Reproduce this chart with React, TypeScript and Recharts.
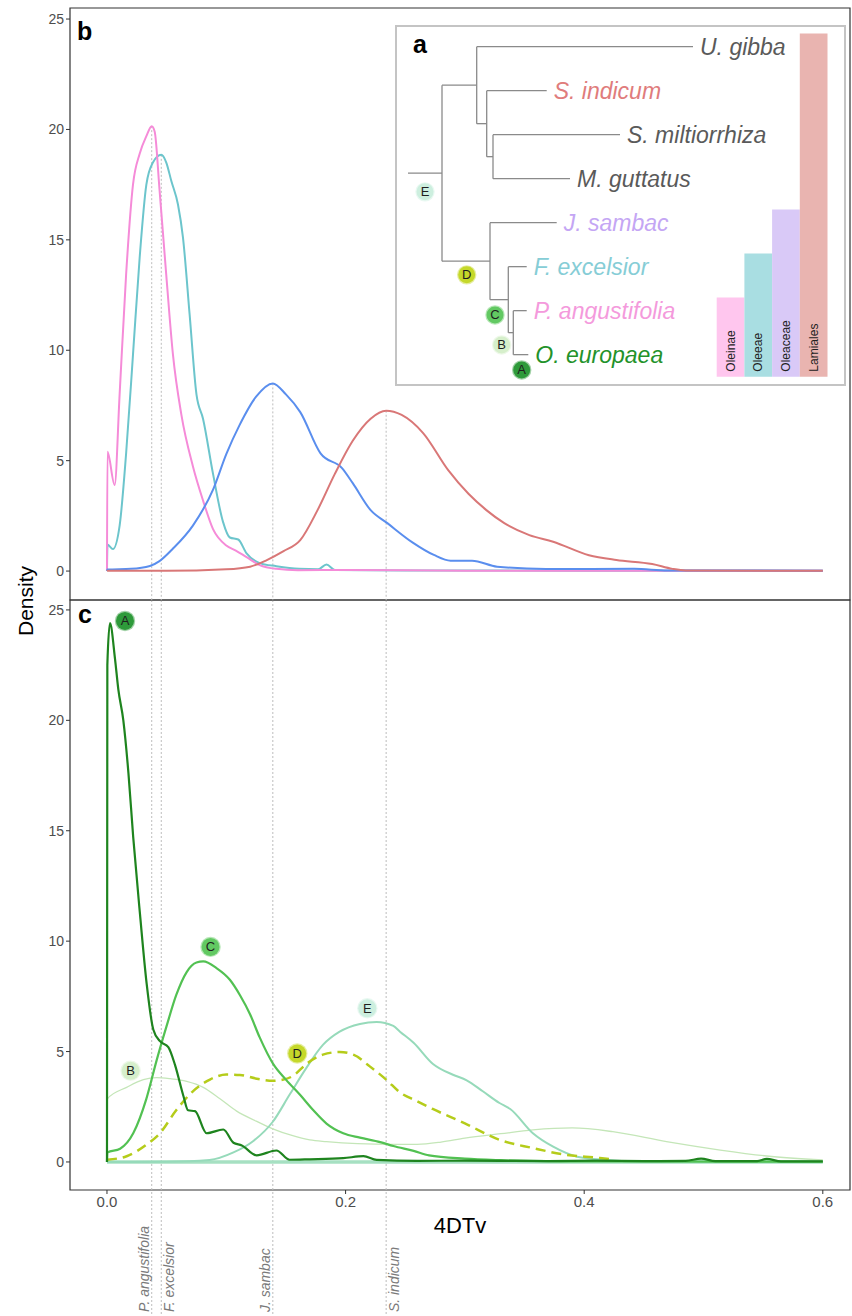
import React from "react";
import {
  LineChart,
  Line,
  XAxis,
  YAxis,
  ReferenceArea,
  ReferenceLine,
  ReferenceDot,
  ComposedChart,
  Scatter,
} from "recharts";

const FONT = '"Liberation Sans", Arial, Helvetica, sans-serif';

// ---- panel b: 4DTv densities of the paralogs in each species, [x, density]
const pAngustifolia = [
  [0, 0], [0.0004, 5.4], [0.0064, 3.9], [0.0106, 8.0], [0.016, 13.4], [0.0218, 17.5],
  [0.0274, 18.9], [0.033, 19.7], [0.0375, 20.15], [0.04, 19.9], [0.044, 17.3],
  [0.0497, 13.4], [0.0553, 9.8], [0.0623, 7.1], [0.072, 4.75], [0.0805, 3.2],
  [0.0889, 1.9], [0.1, 1.16], [0.108, 0.93], [0.117, 0.63], [0.128, 0.27],
  [0.142, 0.1], [0.16, 0.04], [0.2, 0.05], [0.3, 0.02], [0.4, 0.02], [0.5, 0.01], [0.6, 0.01],
];
const fExcelsior = [
  [0, 0], [0.0004, 1.2], [0.005, 1.0], [0.0106, 2.06], [0.016, 5.3], [0.0218, 9.8],
  [0.0274, 14.2], [0.033, 17.5], [0.0385, 18.5], [0.0455, 18.85], [0.0497, 18.5],
  [0.054, 17.65], [0.0595, 16.6], [0.0637, 15.1], [0.0693, 11.6], [0.075, 8.0],
  [0.0805, 6.9], [0.0889, 4.4], [0.0972, 2.24], [0.103, 1.52], [0.11, 1.43],
  [0.117, 0.8], [0.128, 0.36], [0.142, 0.22], [0.161, 0.1], [0.177, 0.08], [0.184, 0.3],
  [0.191, 0.05], [0.25, 0.03], [0.4, 0.02], [0.6, 0.01],
];
const jSambac = [
  [0, 0], [0.0004, 0.07], [0.02, 0.1], [0.036, 0.23], [0.044, 0.45], [0.055, 1.0],
  [0.072, 2.06], [0.089, 3.7], [0.1, 5.3], [0.111, 6.6], [0.125, 7.9], [0.139, 8.5],
  [0.15, 8.0], [0.162, 7.2], [0.179, 5.33], [0.197, 4.66], [0.206, 3.98], [0.221, 2.76],
  [0.235, 2.17], [0.256, 1.3], [0.274, 0.73], [0.288, 0.47], [0.306, 0.47], [0.327, 0.2],
  [0.368, 0.09], [0.442, 0.1], [0.47, 0.03], [0.6, 0.02],
];
const sIndicum = [
  [0, 0], [0.0004, 0.01], [0.05, 0.01], [0.1, 0.08], [0.12, 0.2], [0.134, 0.5],
  [0.148, 0.9], [0.162, 1.4], [0.1765, 2.76], [0.191, 4.4], [0.206, 5.9], [0.221, 6.9],
  [0.234, 7.26], [0.247, 7.07], [0.265, 6.25], [0.286, 4.57], [0.303, 3.5], [0.318, 2.76],
  [0.333, 2.17], [0.354, 1.63], [0.374, 1.33], [0.404, 0.72], [0.427, 0.5], [0.457, 0.32],
  [0.474, 0.1], [0.485, 0.03], [0.6, 0.01],
];

// ---- panel c: densities of the olive paralog classes A-E
const cladeA = [
  [0, 0], [0.0003, 22.5], [0.0025, 24.4], [0.0067, 22.8], [0.0095, 21.4], [0.0137, 20.0],
  [0.018, 17.6], [0.022, 14.7], [0.0277, 11.2], [0.0332, 8.1], [0.0388, 6.0],
  [0.0444, 5.47], [0.0514, 5.2], [0.057, 4.4], [0.064, 3.0], [0.068, 2.34], [0.0738, 2.3],
  [0.0835, 1.3], [0.0975, 1.47], [0.106, 0.87], [0.113, 0.75], [0.1255, 0.3],
  [0.142, 0.52], [0.153, 0.1], [0.17, 0.12], [0.198, 0.17], [0.215, 0.26], [0.226, 0.09],
  [0.26, 0.05], [0.3, 0.06], [0.33, 0.05], [0.37, 0.04], [0.41, 0.06], [0.45, 0.04],
  [0.485, 0.05], [0.498, 0.15], [0.51, 0.04], [0.545, 0.04], [0.553, 0.14], [0.565, 0.03], [0.6, 0.03],
];
const cladeB = [
  [0, 0], [0.0003, 2.86], [0.0165, 3.38], [0.0305, 3.73], [0.0416, 3.82], [0.053, 3.77],
  [0.0668, 3.65], [0.0807, 3.38], [0.0947, 2.86], [0.1087, 2.3], [0.125, 1.85],
  [0.139, 1.5], [0.155, 1.2], [0.17, 1.0], [0.184, 0.92], [0.21, 0.83], [0.24, 0.8],
  [0.26, 0.8], [0.28, 0.9], [0.3, 1.08], [0.33, 1.28], [0.357, 1.45], [0.39, 1.54],
  [0.424, 1.37], [0.469, 0.92], [0.514, 0.54], [0.553, 0.27], [0.6, 0.09],
];
const cladeC = [
  [0, 0], [0.0003, 0.43], [0.011, 0.6], [0.022, 1.3], [0.033, 2.86], [0.0416, 4.6],
  [0.05, 6.16], [0.058, 7.55], [0.0668, 8.6], [0.075, 9.03], [0.0807, 9.08],
  [0.092, 8.77], [0.103, 8.25], [0.1115, 7.55], [0.12, 6.68], [0.128, 5.64],
  [0.1394, 4.43], [0.15, 3.73], [0.1618, 3.04], [0.173, 2.34], [0.184, 1.74],
  [0.198, 1.3], [0.212, 1.1], [0.229, 0.9], [0.24, 0.72], [0.257, 0.5], [0.27, 0.3],
  [0.3, 0.15], [0.33, 0.08], [0.38, 0.03], [0.45, 0.02], [0.6, 0.01],
];
const cladeD = [
  [0, 0.1], [0.0165, 0.26], [0.033, 0.78], [0.0444, 1.3], [0.058, 2.34], [0.072, 3.2],
  [0.0863, 3.73], [0.1, 3.96], [0.1115, 3.94], [0.1255, 3.77], [0.139, 3.68],
  [0.148, 3.73], [0.156, 3.9], [0.167, 4.43], [0.181, 4.86], [0.195, 4.98],
  [0.2065, 4.86], [0.22, 4.34], [0.234, 3.73], [0.2456, 3.15], [0.26, 2.75],
  [0.273, 2.4], [0.3, 1.75], [0.329, 1.0], [0.357, 0.63], [0.385, 0.32], [0.413, 0.18], [0.425, 0.1],
];
const cladeE = [
  [0, 0], [0.05, 0.01], [0.086, 0.09], [0.106, 0.43], [0.1227, 0.95], [0.139, 1.82],
  [0.153, 3.04], [0.167, 4.25], [0.181, 5.3], [0.195, 5.9], [0.212, 6.25], [0.226, 6.34],
  [0.24, 6.16], [0.2456, 5.9], [0.257, 5.4], [0.273, 4.45], [0.29, 3.95], [0.3015, 3.7],
  [0.315, 3.2], [0.329, 2.67], [0.338, 2.4], [0.357, 1.3], [0.374, 0.69], [0.394, 0.24],
  [0.419, 0.09], [0.45, 0.02], [0.6, 0.01],
];

const xTicks = [0, 0.2, 0.4, 0.6];
const yTicks = [0, 5, 10, 15, 20, 25];

// species whose density mode is marked by a dotted line
const markerNames = ["P. angustifolia", "F. excelsior", "J. sambac", "S. indicum"];
const markerSeries = [pAngustifolia, fExcelsior, jSambac, sIndicum];
const markerSide = [-1, 1, -1, 1];

// class labels in panel c
const cladeNames = ["A", "B", "C", "D", "E"];
const cladeLabelX = [0.0151, 0.0198, 0.0868, 0.1595, 0.2182];
const cladeLabelY = [24.5, 4.13, 9.74, 4.91, 6.96];
const cladeFill = ["#2E9A3A", "#D6EFCB", "#62C962", "#C5D82A", "#CDEFDF"];

// ---- inset a: species tree
const tipNames = ["U. gibba", "S. indicum", "S. miltiorrhiza", "M. guttatus", "J. sambac", "F. excelsior", "P. angustifolia", "O. europaea"];
const tipDepth = [285, 138.7, 212, 162, 148.7, 118.7, 118.7, 120.3];
const tipColors = ["#5a5a5a", "#E07C7C", "#5a5a5a", "#5a5a5a", "#C4A6F4", "#86CDD6", "#F49ADC", "#23922A"];
const nodeIds = ["root", "n1", "n2", "n3", "oleaceae", "oleeae", "oleinae"];
const nodeDepth = [34, 68.7, 78.7, 85, 82, 100.3, 105.3];
const nodeChildren: (string | number)[][] = [
  ["n1", "oleaceae"], [0, "n2"], [1, "n3"], [2, 3], [4, "oleeae"], [5, "oleinae"], [6, 7],
];
const treeCladeAt: (string | number)[] = [7, "oleinae", "oleeae", "oleaceae", "root"];
const treeCladeOffset = [[-6.6, 15.3], [-11.6, 12.3], [-13.3, 15.3], [-23.3, 13.7], [-17, 18.7]];

const groupNames = ["Oleinae", "Oleeae", "Oleaceae", "Lamiales"];
const groupFirstTip = [6, 5, 4, 0];
const groupColors = ["#FFC6EE", "#A9DEE2", "#D9C9F7", "#E9B4B0"];

const X_DOMAIN: [number, number] = [-0.031, 0.6228];
const B_DOMAIN: [number, number] = [-1.31, 25.5];
const C_DOMAIN: [number, number] = [-1.27, 25.45];
const TREE_X: [number, number] = [-12, 437];
const TREE_Y: [number, number] = [-0.47, 7.69];

const toPts = (s: number[][]) => s.map(([x, y]) => ({ x, y }));
const peakOf = (s: number[][]) => s.reduce((m, p) => (p[1] > m[1] ? p : m));

const rowOf = (c: string | number): number =>
  typeof c === "number"
    ? c
    : nodeChildren[nodeIds.indexOf(c)].map(rowOf).reduce((a, b) => a + b, 0) / 2;
const depthOf = (c: string | number) =>
  typeof c === "number" ? tipDepth[c] : nodeDepth[nodeIds.indexOf(c)];

const treeEdges: { x1: number; y1: number; x2: number; y2: number }[] = [];
nodeIds.forEach((id, i) => {
  const d = nodeDepth[i];
  const rows = nodeChildren[i].map(rowOf);
  treeEdges.push({ x1: d, y1: rows[0], x2: d, y2: rows[1] });
  nodeChildren[i].forEach((c, k) =>
    treeEdges.push({ x1: d, y1: rows[k], x2: depthOf(c), y2: rows[k] })
  );
});
treeEdges.push({ x1: 0, y1: rowOf("root"), x2: nodeDepth[0], y2: rowOf("root") });

const tipData = tipNames.map((name, i) => ({ x: tipDepth[i], y: i, name, color: tipColors[i] }));

const cladeMark = (label: string, fill: string, r: number, dx = 0, dy = 0) => (p: any) => (
  <g>
    <circle cx={p.cx + dx} cy={p.cy + dy} r={r + 1.2} fill={fill} opacity={0.45} />
    <circle cx={p.cx + dx} cy={p.cy + dy} r={r} fill={fill} />
    <text
      x={p.cx + dx}
      y={p.cy + dy}
      textAnchor="middle"
      dominantBaseline="central"
      fontSize={13}
      fill="#1f1f1f"
      fontFamily={FONT}
    >
      {label}
    </text>
  </g>
);

const panelLetter = (ch: string, dx: number, dy: number) => (p: any) => (
  <text x={p.cx + dx} y={p.cy + dy} fontSize={25} fontWeight="bold" fill="#000" fontFamily={FONT}>
    {ch}
  </text>
);

const yAxisProps = {
  type: "number" as const,
  width: 70,
  ticks: yTicks,
  allowDataOverflow: true,
  axisLine: false,
  tickSize: 4,
  tickLine: { stroke: "#333" },
  tick: { fill: "#4D4D4D", fontSize: 14, fontFamily: FONT },
};

function PanelB() {
  return (
    <LineChart width={852} height={650} margin={{ top: 8, right: 2, bottom: 50, left: 0 }}>
      <XAxis type="number" dataKey="x" domain={X_DOMAIN} allowDataOverflow hide />
      <YAxis {...yAxisProps} domain={B_DOMAIN} />
      <ReferenceArea
        x1={X_DOMAIN[0]} x2={X_DOMAIN[1]} y1={B_DOMAIN[0]} y2={B_DOMAIN[1]}
        fill="#fff" fillOpacity={0} stroke="#333" strokeWidth={1.2} ifOverflow="visible"
      />
      {markerSeries.map((s, i) => {
        const [px, py] = peakOf(s);
        return (
          <ReferenceLine
            key={markerNames[i]}
            segment={[{ x: px, y: py }, { x: px, y: B_DOMAIN[0] }]}
            stroke="#bdbdbd" strokeWidth={1} strokeDasharray="2 2" ifOverflow="visible"
          />
        );
      })}
      <Line data={toPts(fExcelsior)} dataKey="y" type="monotone" stroke="#6CC5CC" strokeWidth={2} dot={false} isAnimationActive={false} />
      <Line data={toPts(pAngustifolia)} dataKey="y" type="monotone" stroke="#F58BD8" strokeWidth={2} dot={false} isAnimationActive={false} />
      <Line data={toPts(jSambac)} dataKey="y" type="monotone" stroke="#5A8EEE" strokeWidth={2} dot={false} isAnimationActive={false} />
      <Line data={toPts(sIndicum)} dataKey="y" type="monotone" stroke="#D97777" strokeWidth={2} dot={false} isAnimationActive={false} />
      <ReferenceDot x={X_DOMAIN[0]} y={B_DOMAIN[1]} r={0} ifOverflow="visible" shape={panelLetter("b", 7, 32)} />
      <ReferenceDot
        x={X_DOMAIN[0]} y={B_DOMAIN[0]} r={0} ifOverflow="visible"
        shape={(p: any) => (
          <text
            transform={`translate(${p.cx - 45},${p.cy + 1}) rotate(-90)`}
            textAnchor="middle" dominantBaseline="central" fontSize={21} fill="#000" fontFamily={FONT}
          >
            Density
          </text>
        )}
      />
    </LineChart>
  );
}

function PanelC() {
  const bottom = -6.8;
  return (
    <LineChart width={852} height={726} margin={{ top: 10, right: 2, bottom: 0, left: 0 }}>
      <XAxis
        type="number" dataKey="x" domain={X_DOMAIN} allowDataOverflow height={126}
        ticks={xTicks} interval={0} tickFormatter={(v: number) => v.toFixed(1)}
        axisLine={false} tickSize={4} tickLine={{ stroke: "#333" }}
        tick={{ fill: "#4D4D4D", fontSize: 15, fontFamily: FONT }}
        label={{ value: "4DTv", position: "insideTop", offset: 27, fontSize: 22, fill: "#000", fontFamily: FONT }}
      />
      <YAxis {...yAxisProps} domain={C_DOMAIN} />
      <ReferenceArea
        x1={X_DOMAIN[0]} x2={X_DOMAIN[1]} y1={C_DOMAIN[0]} y2={C_DOMAIN[1]}
        fill="#fff" fillOpacity={0} stroke="#333" strokeWidth={1.2} ifOverflow="visible"
      />
      {markerSeries.map((s, i) => {
        const [px] = peakOf(s);
        return (
          <ReferenceLine
            key={markerNames[i]}
            segment={[{ x: px, y: C_DOMAIN[1] }, { x: px, y: -7.1 }]}
            stroke="#bdbdbd" strokeWidth={1} strokeDasharray="2 2" ifOverflow="visible"
          />
        );
      })}
      {markerSeries.map((s, i) => {
        const [px] = peakOf(s);
        return (
          <ReferenceDot
            key={"lab" + markerNames[i]}
            x={px} y={bottom} r={0} ifOverflow="visible"
            shape={(p: any) => (
              <text
                transform={`translate(${p.cx + markerSide[i] * 8},${p.cy}) rotate(-90)`}
                textAnchor="start" dominantBaseline="central" fontSize={14}
                fontStyle="italic" fill="#7a7a7a" fontFamily={FONT}
              >
                {markerNames[i]}
              </text>
            )}
          />
        );
      })}
      <ReferenceLine
        segment={[{ x: 0, y: 0 }, { x: 0.6, y: 0 }]}
        stroke="#A6E0C2" strokeWidth={3.5} ifOverflow="visible"
      />
      <Line data={toPts(cladeB)} dataKey="y" type="monotone" stroke="#C4E6B8" strokeWidth={1.3} dot={false} isAnimationActive={false} />
      <Line data={toPts(cladeE)} dataKey="y" type="monotone" stroke="#96DABA" strokeWidth={2} dot={false} isAnimationActive={false} />
      <Line data={toPts(cladeD)} dataKey="y" type="monotone" stroke="#B5CC1A" strokeWidth={2.5} strokeDasharray="10 6" dot={false} isAnimationActive={false} />
      <Line data={toPts(cladeC)} dataKey="y" type="monotone" stroke="#52C152" strokeWidth={2.2} dot={false} isAnimationActive={false} />
      <Line data={toPts(cladeA)} dataKey="y" type="monotone" stroke="#1E841E" strokeWidth={2.2} dot={false} isAnimationActive={false} />
      {cladeNames.map((n, i) => (
        <ReferenceDot
          key={n} x={cladeLabelX[i]} y={cladeLabelY[i]} r={0} ifOverflow="visible"
          shape={cladeMark(n, cladeFill[i], 9)}
        />
      ))}
      <ReferenceDot x={X_DOMAIN[0]} y={C_DOMAIN[1]} r={0} ifOverflow="visible" shape={panelLetter("c", 8, 23)} />
    </LineChart>
  );
}

function TreeInset() {
  const barLeft = 308.7;
  const barW = 27.7;
  return (
    <ComposedChart width={453} height={363} margin={{ top: 2, right: 2, bottom: 2, left: 2 }}>
      <XAxis type="number" dataKey="x" domain={TREE_X} allowDataOverflow hide />
      <YAxis type="number" domain={TREE_Y} allowDataOverflow reversed hide width={0} />
      <ReferenceArea
        x1={TREE_X[0]} x2={TREE_X[1]} y1={TREE_Y[0]} y2={TREE_Y[1]}
        fill="#fff" fillOpacity={1} stroke="#c4c4c4" strokeWidth={2} ifOverflow="visible"
      />
      {groupNames.map((g, i) => (
        <ReferenceArea
          key={g}
          x1={barLeft + i * barW} x2={barLeft + (i + 1) * barW}
          y1={groupFirstTip[i] - 0.3} y2={7.5}
          fill={groupColors[i]} fillOpacity={1} stroke="none" ifOverflow="visible"
        />
      ))}
      {groupNames.map((g, i) => (
        <ReferenceDot
          key={"l" + g} x={barLeft + (i + 0.5) * barW} y={7.5} r={0} ifOverflow="visible"
          shape={(p: any) => (
            <text
              transform={`translate(${p.cx},${p.cy - 5}) rotate(-90)`}
              textAnchor="start" dominantBaseline="central" fontSize={12} fill="#222" fontFamily={FONT}
            >
              {g}
            </text>
          )}
        />
      ))}
      {treeEdges.map((e, i) => (
        <ReferenceLine
          key={"e" + i}
          segment={[{ x: e.x1, y: e.y1 }, { x: e.x2, y: e.y2 }]}
          stroke="#8a8a8a" strokeWidth={1.3} ifOverflow="visible"
        />
      ))}
      <Scatter
        data={tipData} dataKey="y" isAnimationActive={false}
        shape={(p: any) => (
          <text
            x={p.cx + 7} y={p.cy} dominantBaseline="central" fontSize={23}
            fontStyle="italic" fill={p.payload.color} fontFamily={FONT}
          >
            {p.payload.name}
          </text>
        )}
      />
      {cladeNames.map((n, i) => {
        const at = treeCladeAt[i];
        return (
          <ReferenceDot
            key={"t" + n} x={depthOf(at)} y={rowOf(at)} r={0} ifOverflow="visible"
            shape={cladeMark(n, cladeFill[i], 8.5, treeCladeOffset[i][0], treeCladeOffset[i][1])}
          />
        );
      })}
      <ReferenceDot x={TREE_X[0]} y={TREE_Y[0]} r={0} ifOverflow="visible" shape={panelLetter("a", 17, 27)} />
    </ComposedChart>
  );
}

export default function App() {
  return (
    <div style={{ position: "absolute", left: 0, top: 0, width: 852, height: 1316, background: "#fff", fontFamily: FONT }}>
      <div style={{ position: "absolute", left: 0, top: 590 }}>
        <PanelC />
      </div>
      <div style={{ position: "absolute", left: 0, top: 0 }}>
        <PanelB />
      </div>
      <div style={{ position: "absolute", left: 394, top: 24 }}>
        <TreeInset />
      </div>
    </div>
  );
}
